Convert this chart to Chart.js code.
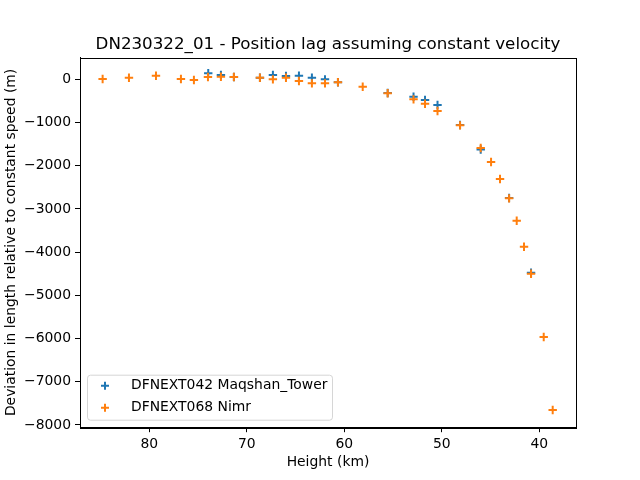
<!DOCTYPE html>
<html>
<head>
<meta charset="utf-8">
<script src="https://cdn.jsdelivr.net/npm/chart.js@4"></script>
<style>
  html, body { margin: 0; padding: 0; background: #fff; }
  #wrap { width: 640px; height: 480px; }
</style>
</head>
<body>
<div id="wrap"><canvas id="lagChart" width="640" height="480"></canvas></div>
<script>
// Position lag data (height in km, deviation in m)
const maqHeight = [73.95, 72.65, 71.32, 68.65, 67.32, 65.98, 64.65, 63.32, 61.98, 60.65,
                   55.55, 52.90, 51.72, 50.44, 48.13, 46.01, 43.10, 40.85];
const maqLag = [139, 100, 53, 37, 100, 76, 83, 37, 0, -69,
                -317, -403, -479, -595, -1058, -1625, -2748, -4477];

const nimrHeight = [84.78, 82.08, 79.31, 76.75, 75.42, 73.98, 72.65, 71.32, 68.65, 67.32,
                    65.98, 64.65, 63.32, 61.98, 60.65, 58.11, 55.55, 52.90, 51.72, 50.44,
                    48.13, 46.01, 44.95, 44.03, 43.10, 42.32, 41.57, 40.85, 39.55, 38.63];
const nimrLag = [7, 37, 83, 7, -16, 53, 60, 53, 37, 0,
                 35, -39, -93, -93, -69, -171, -324, -463, -565, -734,
                 -1065, -1590, -1914, -2308, -2755, -3273, -3875, -4500, -5965, -7655];

const seriesNames = ['DFNEXT042 Maqshan_Tower', 'DFNEXT068 Nimr'];
const xTicks = [40, 50, 60, 70, 80];
const yTicks = [0, -1000, -2000, -3000, -4000, -5000, -6000, -7000, -8000];

const BLUE = '#1f77b4';
const ORANGE = '#ff7f0e';
const FONT = 'DejaVu Sans';

function pts(xs, ys) {
  return xs.map((x, i) => ({ x: x, y: ys[i] }));
}

function drawCross(ctx, x, y, r, color) {
  ctx.save();
  ctx.strokeStyle = color;
  ctx.lineWidth = 2;
  ctx.beginPath();
  ctx.moveTo(x - r, y); ctx.lineTo(x + r, y);
  ctx.moveTo(x, y - r); ctx.lineTo(x, y + r);
  ctx.stroke();
  ctx.restore();
}

// box around the axes + matplotlib-like legend in the lower left
const frameAndLegend = {
  id: 'frameAndLegend',
  afterDatasetsDraw(chart) {
    const { ctx, chartArea: a } = chart;
    ctx.save();
    ctx.strokeStyle = '#000';
    ctx.lineWidth = 1;
    ctx.strokeRect(Math.round(a.left) + 0.5, Math.round(a.top) + 0.5,
                   Math.round(a.right - a.left), Math.round(a.bottom - a.top));

    // legend
    const lx = a.left + 7, ly = a.bottom - 52.5, lw = 245, lh = 45;
    ctx.beginPath();
    ctx.roundRect(lx + 0.5, ly + 0.5, lw, lh, 3);
    ctx.fillStyle = 'rgba(255,255,255,0.8)';
    ctx.fill();
    ctx.strokeStyle = 'rgba(204,204,204,0.8)';
    ctx.stroke();

    ctx.font = '13.9px "' + FONT + '"';
    ctx.fillStyle = '#000';
    ctx.textBaseline = 'middle';
    ctx.textAlign = 'left';
    chart.data.datasets.forEach((ds, i) => {
      const rowY = ly + 11 + i * 22;
      drawCross(ctx, lx + 18, rowY, 4, ds.borderColor);
      ctx.fillText(ds.label, lx + 44, rowY);
    });
    ctx.restore();
  }
};

const ctx = document.getElementById('lagChart').getContext('2d');
new Chart(ctx, {
  type: 'scatter',
  data: {
    datasets: [
      {
        label: seriesNames[0],
        data: pts(maqHeight, maqLag),
        borderColor: BLUE,
        backgroundColor: BLUE,
        pointStyle: 'cross',
        pointRadius: 4.2,
        pointBorderWidth: 2,
        order: 2
      },
      {
        label: seriesNames[1],
        data: pts(nimrHeight, nimrLag),
        borderColor: ORANGE,
        backgroundColor: ORANGE,
        pointStyle: 'cross',
        pointRadius: 4.2,
        pointBorderWidth: 2,
        order: 1
      }
    ]
  },
  options: {
    responsive: false,
    animation: false,
    events: [],
    layout: {
      padding: { left: 0, right: 64, top: 0, bottom: 0 }
    },
    plugins: {
      legend: { display: false },
      tooltip: { enabled: false },
      title: {
        display: true,
        fullSize: false,
        text: 'DN230322_01 - Position lag assuming constant velocity',
        color: '#000',
        font: { family: FONT, size: 16.7, weight: 'normal', lineHeight: 1.2 },
        padding: { top: 34.5, bottom: 3.1 }
      }
    },
    scales: {
      x: {
        type: 'linear',
        reverse: true,
        min: 36.24,
        max: 87.1,
        afterFit: (s) => { s.height = 52.8; },
        afterBuildTicks: (s) => { s.ticks = xTicks.map(v => ({ value: v })); },
        grid: { display: true, drawOnChartArea: false, drawTicks: true, tickLength: 5, color: '#000' },
        border: { display: true, color: '#000', width: 1 },
        ticks: {
          color: '#000',
          padding: 4,
          maxRotation: 0,
          font: { family: FONT, size: 13.9 }
        },
        title: {
          display: true,
          text: 'Height (km)',
          color: '#000',
          font: { family: FONT, size: 13.9 },
          padding: { top: 0, bottom: 9.7 }
        }
      },
      y: {
        type: 'linear',
        min: -8053,
        max: 502,
        afterFit: (s) => { s.width = 80; },
        afterBuildTicks: (s) => { s.ticks = yTicks.map(v => ({ value: v })); },
        grid: { display: true, drawOnChartArea: false, drawTicks: true, tickLength: 5, color: '#000' },
        border: { display: true, color: '#000', width: 1 },
        ticks: {
          color: '#000',
          padding: 4,
          font: { family: FONT, size: 13.9 },
          callback: (v) => (v < 0 ? '\u2212' + Math.abs(v) : String(v))
        },
        title: {
          display: true,
          text: 'Deviation in length relative to constant speed (m)',
          color: '#000',
          font: { family: FONT, size: 13.9 },
          padding: { top: 2.7, bottom: 0 }
        }
      }
    }
  },
  plugins: [frameAndLegend]
});
</script>
</body>
</html>
